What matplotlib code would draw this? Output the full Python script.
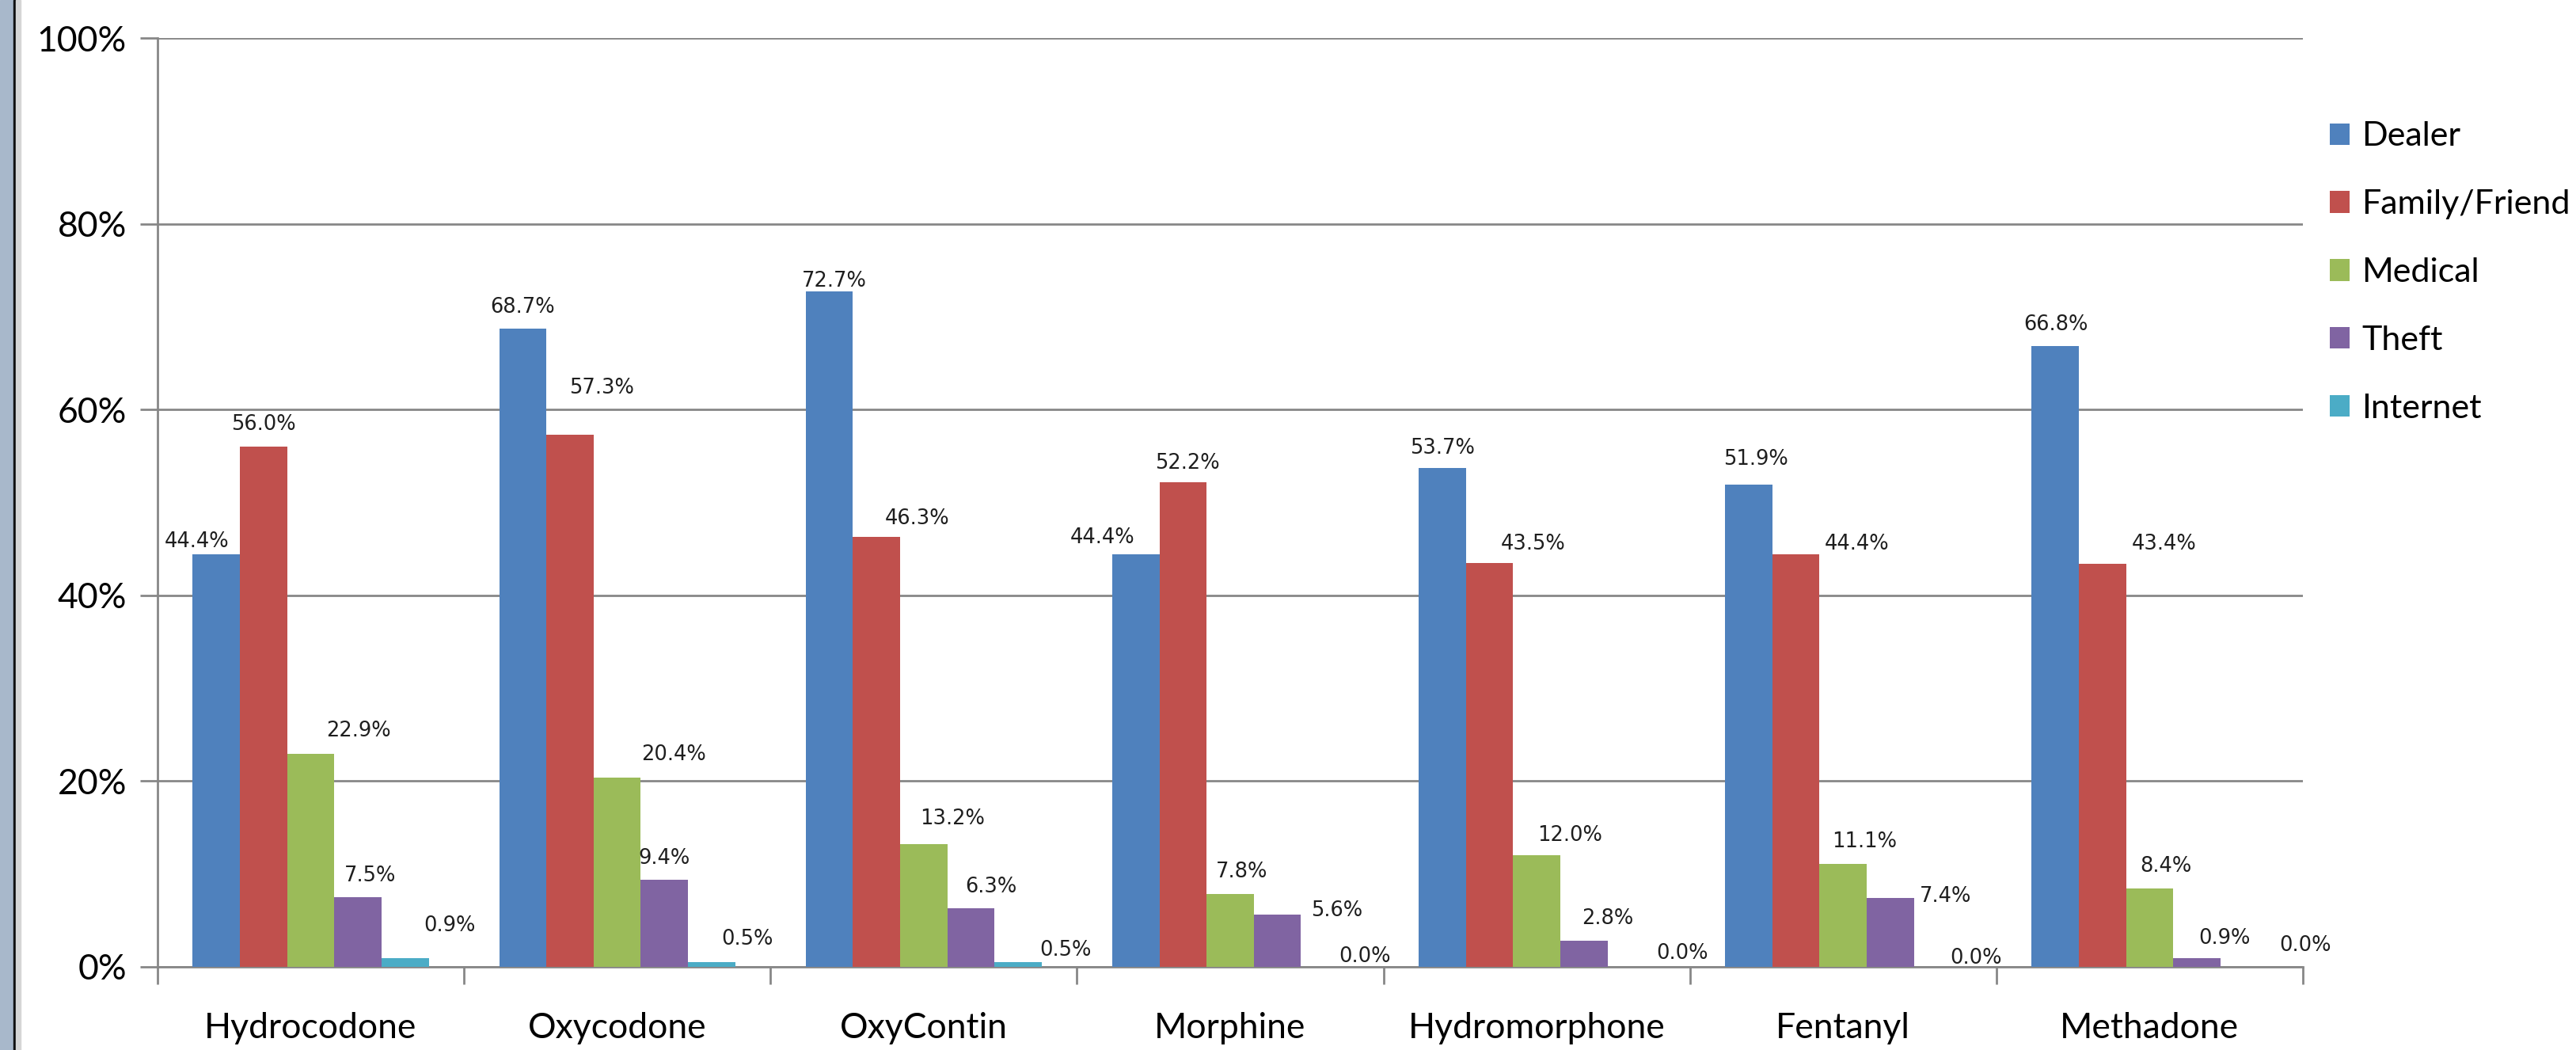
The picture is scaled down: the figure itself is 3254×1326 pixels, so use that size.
import numpy as np
import matplotlib.pyplot as plt
from matplotlib.patches import Rectangle
from matplotlib.ticker import FuncFormatter

plt.rcParams['font.family'] = ['Lato', 'DejaVu Sans']

drugs = ["Hydrocodone", "Oxycodone", "OxyContin", "Morphine", "Hydromorphone", "Fentanyl", "Methadone"]
sources = ["Dealer", "Family/Friend", "Medical", "Theft", "Internet"]

dealer = [44.4, 68.7, 72.7, 44.4, 53.7, 51.9, 66.8]
family = [56.0, 57.3, 46.3, 52.2, 43.5, 44.4, 43.4]
medical = [22.9, 20.4, 13.2, 7.8, 12.0, 11.1, 8.4]
theft = [7.5, 9.4, 6.3, 5.6, 2.8, 7.4, 0.9]
internet = [0.9, 0.5, 0.5, 0.0, 0.0, 0.0, 0.0]

colors = ["#4F81BD", "#C0504D", "#9BBB59", "#8064A2", "#4BACC6"]
series = [dealer, family, medical, theft, internet]

# data labels in the original sit a bit off their bars: nudges in pixels (dx right, dy up from bar top to baseline)
label_dx = [[-25, 0, 6, -42, 0, 9, 1],
            [0, 40, 51, 6, 55, 77, 78],
            [60, 71, 36, 15, 42, 27, 20],
            [15, 0, 25, 75, 30, 70, 35],
            [56, 45, 60, 51, 65, 49, 77]]
label_dy = [[9, 20, 6, 14, 18, 25, 20],
            [21, 52, 16, 17, 17, 6, 18],
            [22, 22, 25, 21, 18, 21, 21],
            [20, 20, 20, -2, 21, -5, 18],
            [34, 22, 8, 6, 10, 4, 20]]

fig = plt.figure(figsize=(32.55, 13.26), dpi=100)
ax = fig.add_axes([0.0611, 0.0792, 0.8326, 0.8846])

# window border strip on the left edge
fig.add_artist(Rectangle((0, 0), 17 / 3255, 1, transform=fig.transFigure, color="#A8B8CB", zorder=0))
fig.add_artist(Rectangle((17 / 3255, 0), 3 / 3255, 1, transform=fig.transFigure, color="#111111", zorder=0))
fig.add_artist(Rectangle((20 / 3255, 0), 6 / 3255, 1, transform=fig.transFigure, color="#D6D6D6", zorder=0))

x = np.arange(len(drugs))
w = 0.154
px = 72 / fig.dpi
for i, (vals, c, name) in enumerate(zip(series, colors, sources)):
    pos = x + (i - 2) * w
    ax.bar(pos, vals, width=w, color=c, label=name, zorder=3)
    for j, (xb, v) in enumerate(zip(pos, vals)):
        ax.annotate(f"{v:.1f}%", (xb, v),
                    xytext=(label_dx[i][j] * px, label_dy[i][j] * px), textcoords="offset points",
                    ha="center", va="baseline", fontsize=18.5, family="DejaVu Sans",
                    color="#1E1E1E", zorder=4)

ax.set_xlim(-0.5, len(drugs) - 0.5)
ax.set_ylim(0, 100)
ax.set_yticks(np.arange(0, 101, 20))
ax.yaxis.set_major_formatter(FuncFormatter(lambda v, p: f"{v:.0f}%"))
ax.yaxis.grid(True, color="#878787", linewidth=2, zorder=0)
ax.set_axisbelow(True)

ax.set_xticks(x)
ax.set_xticklabels(drugs)
ax.set_xticks(np.arange(-0.5, len(drugs)), minor=True)
ax.tick_params(axis="x", which="major", length=0, pad=41, labelsize=32)
ax.tick_params(axis="x", which="minor", length=16, width=2, color="#878787", direction="out")
ax.tick_params(axis="y", length=16, width=2, color="#878787", pad=12, labelsize=32)

for s in ["top", "right"]:
    ax.spines[s].set_visible(False)
for s in ["left", "bottom"]:
    ax.spines[s].set_color("#878787")
    ax.spines[s].set_linewidth(2)

fig.legend(loc="upper left", bbox_to_anchor=(0.8974, 0.9005), frameon=False, fontsize=31,
           borderpad=0, handlelength=0.6, handleheight=0.6, handletextpad=0.35, labelspacing=1.11)

fig.savefig("out.png", dpi=100)
